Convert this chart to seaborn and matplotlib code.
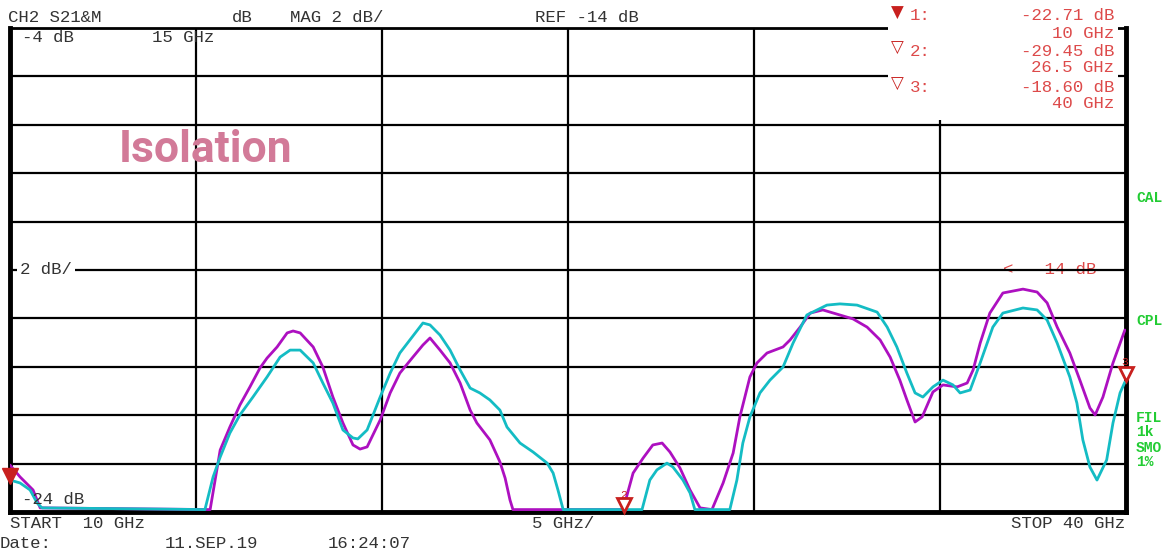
import numpy as np
import pandas as pd
import seaborn as sns
from matplotlib import pyplot as plt
from matplotlib.patches import Rectangle

# trace 1 (magenta), GHz / dB (floor = -24 dB)
freq_mag = [10.00, 10.27, 10.62, 10.81, 15.38, 15.65, 15.91, 16.18, 16.45, 16.72,
            16.91, 17.18, 17.45, 17.61, 17.80, 18.15, 18.41, 18.68, 18.95, 19.22,
            19.41, 19.60, 19.95, 20.22, 20.48, 20.83, 21.10, 21.29, 21.56, 21.83,
            22.10, 22.37, 22.55, 22.90, 23.17, 23.31, 23.44, 23.52, 26.48, 26.75,
            27.02, 27.28, 27.53, 27.74, 28.01, 28.28, 28.55, 28.87, 29.17, 29.44,
            29.62, 29.89, 30.08, 30.35, 30.78, 30.97, 31.24, 31.51, 31.85, 32.31,
            32.66, 33.04, 33.39, 33.66, 33.92, 34.11, 34.33, 34.52, 34.81, 35.08,
            35.46, 35.73, 35.89, 36.08, 36.34, 36.69, 37.23, 37.61, 37.88, 38.15,
            38.49, 38.76, 39.03, 39.17, 39.38, 39.65, 39.97]
db_mag = [-22.06, -22.55, -23.09, -23.83, -24.00, -21.44, -20.49, -19.58, -18.83, -18.05,
          -17.64, -17.18, -16.60, -16.52, -16.60, -17.18, -18.01, -19.25, -20.32, -21.23,
          -21.40, -21.31, -20.20, -19.08, -18.26, -17.60, -17.10, -16.81, -17.31, -17.84,
          -18.67, -19.79, -20.32, -21.02, -21.93, -22.60, -23.50, -24.00, -24.00, -22.39,
          -21.77, -21.23, -21.15, -21.52, -22.18, -23.09, -23.83, -24.00, -22.80, -21.56,
          -20.07, -18.42, -17.84, -17.43, -17.18, -16.89, -16.36, -15.78, -15.65, -15.86,
          -16.02, -16.36, -16.89, -17.60, -18.55, -19.37, -20.28, -20.07, -19.04, -18.75,
          -18.83, -18.67, -18.13, -17.02, -15.78, -14.95, -14.79, -14.91, -15.36, -16.36,
          -17.43, -18.55, -19.70, -19.99, -19.25, -17.84, -16.48]

# trace 2 (cyan)
freq_cyan = [10.00, 10.27, 10.54, 10.73, 10.86, 15.24, 15.46, 15.65, 15.91, 16.18,
             16.53, 16.91, 17.26, 17.53, 17.80, 18.15, 18.41, 18.68, 18.95, 19.22,
             19.35, 19.60, 19.95, 20.22, 20.48, 20.75, 21.10, 21.29, 21.56, 21.83,
             22.10, 22.37, 22.63, 22.90, 23.17, 23.36, 23.71, 24.06, 24.44, 24.60,
             24.73, 24.87, 26.99, 27.20, 27.39, 27.66, 27.82, 28.09, 28.28, 28.41,
             29.35, 29.54, 29.70, 29.89, 30.16, 30.43, 30.78, 31.05, 31.42, 31.96,
             32.31, 32.77, 33.31, 33.58, 33.84, 34.11, 34.33, 34.54, 34.81, 35.08,
             35.35, 35.54, 35.81, 36.08, 36.42, 36.69, 37.23, 37.61, 37.88, 38.15,
             38.49, 38.68, 38.84, 39.03, 39.22, 39.48, 39.65, 39.84, 39.97]
db_cyan = [-22.68, -22.80, -23.09, -23.63, -23.83, -24.00, -22.55, -21.73, -20.74, -19.99,
           -19.25, -18.42, -17.60, -17.31, -17.31, -17.84, -18.67, -19.50, -20.61, -20.94,
           -20.98, -20.61, -19.25, -18.26, -17.43, -16.89, -16.19, -16.27, -16.69, -17.31,
           -18.13, -18.88, -19.08, -19.37, -19.79, -20.49, -21.15, -21.52, -21.98, -22.39,
           -23.09, -24.00, -24.00, -22.68, -22.26, -21.98, -22.14, -22.68, -23.21, -24.00,
           -24.00, -22.68, -21.15, -20.07, -19.08, -18.55, -18.01, -17.02, -15.86, -15.45,
           -15.40, -15.45, -15.74, -16.36, -17.18, -18.26, -19.08, -19.25, -18.83, -18.55,
           -18.75, -19.08, -18.96, -17.84, -16.36, -15.78, -15.57, -15.65, -16.07, -17.02,
           -18.42, -19.50, -21.02, -22.14, -22.68, -21.85, -20.32, -19.08, -18.63]

marker_freq = [10, 26.5, 40]
marker_db = [-22.71, -29.45, -18.60]
marker_freq_txt = ["10 GHz", "26.5 GHz", "40 GHz"]

W, H = 1174, 552
RED = "#c8201e"
RED_TXT = "#dd4a4a"
GRN = "#22cc33"
TXT = "#333333"
FS = 12.5


def fx(px):
    return px / W


def fy(py):
    return 1 - py / H


sns.set_style("white")
plt.rcParams["font.family"] = ["Liberation Mono", "DejaVu Sans Mono", "DejaVu Sans"]

df = pd.concat([
    pd.DataFrame({"freq": freq_mag, "db": db_mag, "trace": "mag"}),
    pd.DataFrame({"freq": freq_cyan, "db": db_cyan, "trace": "cyan"}),
])
df["db"] = df["db"].clip(lower=-23.9)

fig = plt.figure(figsize=(W / 100, H / 100), dpi=100)
ax = fig.add_axes([fx(10), 40 / H, 1116 / W, 484 / H])

sns.lineplot(data=df, x="freq", y="db", hue="trace",
             palette={"mag": "#ad10c0", "cyan": "#14bcc4"},
             linewidth=2, legend=False, sort=False, estimator=None, ax=ax, zorder=3)

ax.set_xlim(10, 40)
ax.set_ylim(-24, -4)
ax.set_xticks(np.arange(10, 41, 5))
ax.set_yticks(np.arange(-24, -3, 2))
ax.grid(True, color="black", linewidth=1.6)
ax.set_axisbelow(True)
ax.tick_params(length=0, labelbottom=False, labelleft=False)
ax.set_xlabel("")
ax.set_ylabel("")
for side, lw in [("left", 3.5), ("right", 3.5), ("bottom", 3.5), ("top", 2)]:
    ax.spines[side].set_visible(True)
    ax.spines[side].set_color("black")
    ax.spines[side].set_linewidth(lw)

# markers on the trace
ax.plot(marker_freq[0], marker_db[0] + 0.2, marker="v", ms=11, color=RED, clip_on=False, zorder=5)
ax.plot(marker_freq[1], -23.7, marker="v", ms=10, mfc="white", mec=RED, mew=2, clip_on=False, zorder=5)
ax.text(marker_freq[1], -23.3, "2", color=RED, fontsize=8, ha="center", va="center", zorder=5)
ax.plot(marker_freq[2], marker_db[2] + 0.3, marker="v", ms=10, mfc="white", mec=RED, mew=2, clip_on=False, zorder=5)
ax.text(marker_freq[2] - 0.05, marker_db[2] + 0.8, "3", color=RED, fontsize=8, ha="center", va="center", zorder=5)

# in-graph labels
ax.text(10.27, -14, "2 dB/", fontsize=FS, color=TXT, va="center",
        bbox=dict(facecolor="white", edgecolor="none", pad=2), zorder=4)
ax.text(39.2, -14, "<  -14 dB", fontsize=FS, color=RED_TXT, ha="right", va="center", zorder=0.4)
fig.text(fx(22), fy(38), "-4 dB", fontsize=FS, color=TXT, va="center")
fig.text(fx(152), fy(38), "15 GHz", fontsize=FS, color=TXT, va="center")
fig.text(fx(22), fy(500), "-24 dB", fontsize=FS, color=TXT, va="center")

fig.text(fx(119), fy(150), "Isolation", fontsize=32, color="#d27a98",
         family="Roboto", fontweight="bold", va="center")

# header
fig.text(fx(8), fy(17), "CH2 S21&M", fontsize=FS, color=TXT, va="center")
fig.text(fx(232), fy(17), "dB", fontsize=FS, color=TXT, va="center")
fig.text(fx(290), fy(17), "MAG 2 dB/", fontsize=FS, color=TXT, va="center")
fig.text(fx(535), fy(17), "REF -14 dB", fontsize=FS, color=TXT, va="center")

# marker readout block
fig.patches.append(Rectangle((fx(888), fy(120)), 230 / W, 120 / H, transform=fig.transFigure,
                             facecolor="white", edgecolor="none", zorder=1))
rows = [16, 51, 87]
for i, y in enumerate(rows):
    fig.text(fx(897), fy(y - 3), "▼" if i == 0 else "▽", fontsize=12, color=RED,
             family="DejaVu Sans", ha="center", va="center", fontweight="bold", zorder=2)
    fig.text(fx(910), fy(y), f"{i + 1}:", fontsize=FS, color=RED_TXT, va="center", zorder=2)
    fig.text(fx(1114), fy(y), f"{marker_db[i]:.2f} dB", fontsize=FS, color=RED_TXT,
             ha="right", va="center", zorder=2)
    fig.text(fx(1114), fy(y + 17), marker_freq_txt[i], fontsize=FS, color=RED_TXT,
             ha="right", va="center", zorder=2)

# bottom annotations
fig.text(fx(10), fy(523), "START  10 GHz", fontsize=FS, color=TXT, va="center")
fig.text(fx(563), fy(523), "5 GHz/", fontsize=FS, color=TXT, ha="center", va="center")
fig.text(fx(1125), fy(523), "STOP 40 GHz", fontsize=FS, color=TXT, ha="right", va="center")
fig.text(fx(0), fy(543), "Date:", fontsize=FS, color=TXT, va="center")
fig.text(fx(165), fy(543), "11.SEP.19", fontsize=FS, color=TXT, va="center")
fig.text(fx(328), fy(543), "16:24:07", fontsize=FS, color=TXT, va="center")

# right status column
for y, s in [(198, "CAL"), (321, "CPL"), (418, "FIL"), (432, "1k"), (448, "SMO"), (462, "1%")]:
    fig.text(fx(1136), fy(y), s, fontsize=10.5, color=GRN, fontweight="bold", va="center")

fig.savefig("out.png", dpi=100)
